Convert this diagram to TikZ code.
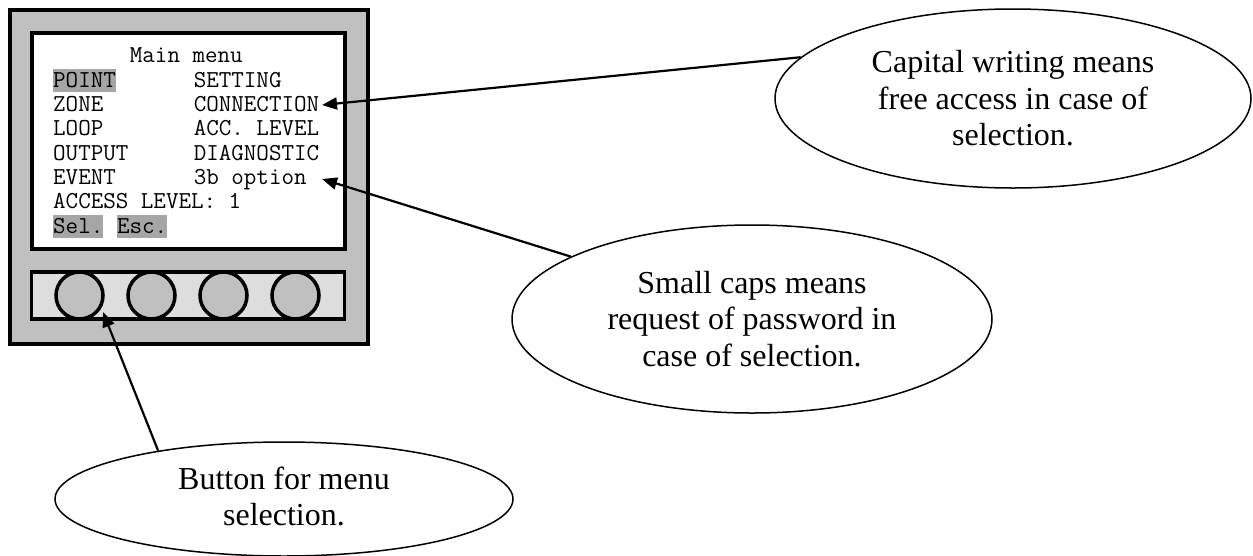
\documentclass[tikz,border=0pt]{standalone}
\usepackage{fontspec}
\setmainfont{Liberation Serif}
\usetikzlibrary{shapes.geometric,arrows.meta}

\definecolor{casegray}{HTML}{C0C0C0}
\definecolor{bargray}{HTML}{DDDDDD}
\definecolor{selgray}{HTML}{A6A6A6}

\tikzset{
  menutxt/.style={anchor=base west, inner sep=0pt, font=\ttfamily\fontsize{24.34}{24}\selectfont\frenchspacing},
  menusel/.style={menutxt, fill=selgray, text height=18pt, text depth=5pt},
  keybtn/.style={circle, draw, line width=3.5pt, fill=casegray, minimum size=47pt, inner sep=0pt},
  note/.style={ellipse, draw, line width=1.5pt, inner sep=0pt, align=center, font=\fontsize{32}{36.5}\selectfont},
  pointer/.style={-{Triangle[length=15pt,width=12pt]}, line width=2.2pt},
}

\begin{document}
\begin{tikzpicture}[x=1pt,y=-1pt]
\useasboundingbox (0,0) rectangle (1253,555);

% panel
\draw[line width=4pt, fill=casegray] (9.5,9.5) rectangle (368,344); % case
\draw[line width=4pt, fill=white] (31.7,33) rectangle (344.7,248.7); % screen
\draw[line width=3.5pt, fill=bargray] (31.7,272) rectangle (344.3,319); % key bar
\foreach \k in {1,...,4}
  \draw ({7.5+72*\k},295.5) node[keybtn] (key\k) {};

% screen text
\draw (129.7,62.7) node[menutxt] (menuttl) {Main menu};
\draw (53,87) node[menusel] (pointitem) {POINT};
\draw (193.6,87) node[menutxt] (settitem) {SETTING};
\draw (53,111.3) node[menutxt] (zoneitem) {ZONE};
\draw (193.6,111.3) node[menutxt] (connitem) {CONNECTION};
\draw (53,135.7) node[menutxt] (loopitem) {LOOP};
\draw (193.6,135.7) node[menutxt] (accitem) {ACC. LEVEL};
\draw (53,160) node[menutxt] (outitem) {OUTPUT};
\draw (193.6,160) node[menutxt] (diagitem) {DIAGNOSTIC};
\draw (53,184.3) node[menutxt] (evtitem) {EVENT};
\draw (193.6,184.3) node[menutxt] (optitem) {3b option};
\draw (53,208.7) node[menutxt] (lvlitem) {ACCESS LEVEL: 1};
\draw (53,233) node[menusel] (selkey) {Sel.};
\draw (116.9,233) node[menusel] (esckey) {Esc.};

% callouts
\draw (1013,98.5) node[note, minimum width=476pt, minimum height=179pt] (capnote) {Capital writing means\\free access in case of\\selection.};
\draw (752,319) node[note, minimum width=480pt, minimum height=188pt] (pwnote) {Small caps means\\request of password in\\case of selection.};
\draw (284,499) node[note, minimum width=458pt, minimum height=114pt, text depth=6pt] (btnnote) {Button for menu\\selection.};

\coordinate (conntip) at (322,105);
\coordinate (opttip) at (322,179);
\coordinate (keytip) at (103,312);

\draw[pointer] (capnote.169) -- (conntip);
\draw[pointer] (pwnote.161) -- (opttip);
\draw[pointer] (btnnote.159) -- (keytip);
\end{tikzpicture}
\end{document}
